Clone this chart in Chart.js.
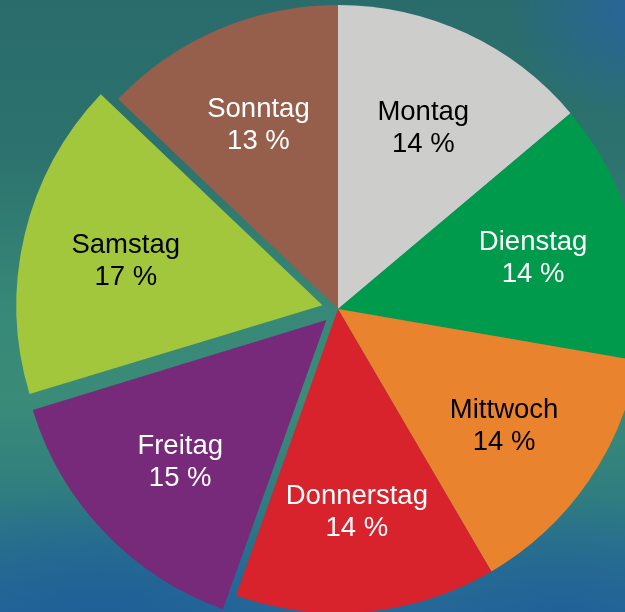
<!DOCTYPE html>
<html>
<head>
<meta charset="utf-8">
<script src="https://cdn.jsdelivr.net/npm/chart.js@4/dist/chart.umd.min.js"></script>
<style>
  html, body { margin: 0; padding: 0; }
  body {
    width: 625px;
    height: 612px;
    overflow: hidden;
    background:
      radial-gradient(ellipse 130px 110px at 640px 10px, rgba(40, 100, 160, 0.95), rgba(40, 100, 160, 0) 100%),
      radial-gradient(ellipse 260px 130px at 100px 612px, rgba(30, 95, 150, 0.9), rgba(30, 95, 150, 0) 100%),
      radial-gradient(ellipse 200px 120px at 560px 612px, rgba(30, 95, 150, 0.7), rgba(30, 95, 150, 0) 100%),
      linear-gradient(180deg, #2a6c6c 0%, #2c726e 25%, #378877 50%, #3a8c78 65%, #2f7d80 82%, #26699a 100%);
  }
  canvas { display: block; }
</style>
</head>
<body>
<canvas id="myChart" width="625" height="612"></canvas>
<script>
// Weekdays, share in percent (as printed on the slices)
const days = ['Montag', 'Dienstag', 'Mittwoch', 'Donnerstag', 'Freitag', 'Samstag', 'Sonntag'];
const shares = [14, 14, 14, 14, 15, 17, 13];
const sliceColors = ['#cdcdcb', '#009a4d', '#e9832d', '#d8222c', '#772a79', '#a2c73d', '#955f4c'];
const labelColors = ['#000000', '#ffffff', '#000000', '#ffffff', '#ffffff', '#000000', '#ffffff'];
// Chart.js v4 moves an arc by offset / 4, so 64 -> 16px pulled out
const pulledOut = [0, 0, 0, 0, 64, 64, 0];

// draws "Name" + "xx %" inside each slice
const sliceLabels = {
    id: 'sliceLabels',
    afterDatasetsDraw(chart) {
        const ctx = chart.ctx;
        const meta = chart.getDatasetMeta(0);
        ctx.save();
        ctx.font = '27.5px "Liberation Sans", Arial, sans-serif';
        ctx.textAlign = 'center';
        ctx.textBaseline = 'alphabetic';
        meta.data.forEach((arc, i) => {
            const mid = (arc.startAngle + arc.endAngle) / 2;
            const dist = (arc.options.offset || 0) / 4 + arc.outerRadius * 0.665;
            const cx = arc.x + Math.cos(mid) * dist;
            const cy = arc.y + Math.sin(mid) * dist;
            ctx.fillStyle = labelColors[i];
            ctx.fillText(days[i], cx, cy - 6);
            ctx.fillText(shares[i] + ' %', cx, cy + 26);
        });
        ctx.restore();
    }
};

const myChart = new Chart(document.getElementById('myChart'), {
    type: 'pie',
    data: {
        labels: days,
        datasets: [{
            data: shares,
            backgroundColor: sliceColors,
            borderWidth: 0,
            offset: pulledOut,
            hoverOffset: 0
        }]
    },
    options: {
        responsive: false,
        animation: false,
        radius: 304,
        layout: { padding: { left: 51, top: 6 } },
        plugins: {
            legend: { display: false },
            tooltip: { enabled: false }
        },
        events: []
    },
    plugins: [sliceLabels]
});
</script>
</body>
</html>
